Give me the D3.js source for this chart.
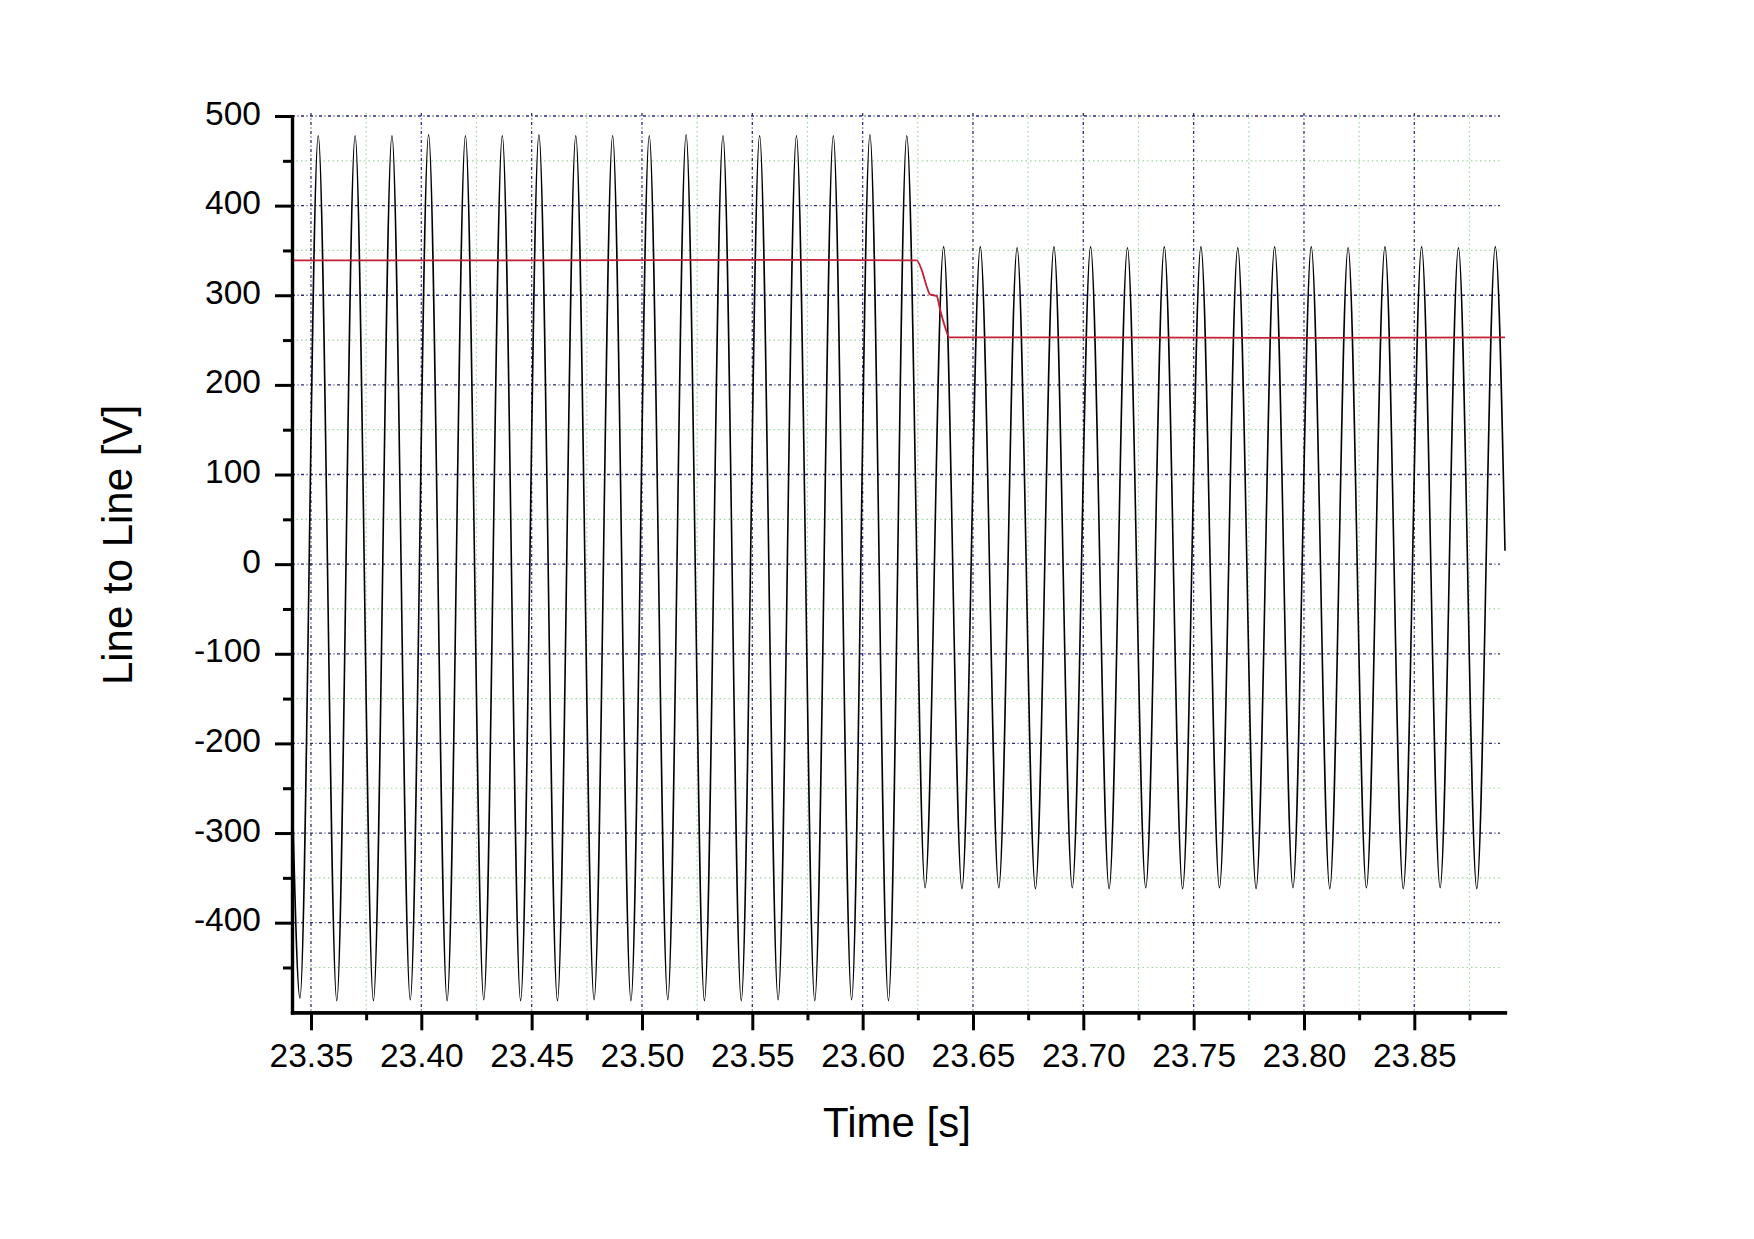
<!DOCTYPE html>
<html>
<head>
<meta charset="utf-8">
<script src="https://cdn.jsdelivr.net/npm/d3@7"></script>
<style>
  html, body { margin: 0; padding: 0; background: #ffffff; }
  svg { display: block; }
  text { font-family: "Liberation Sans", Arial, sans-serif; fill: #000; }
</style>
</head>
<body>
<svg id="chart" width="1754" height="1239"></svg>
<script>
// ---------------- data ----------------
const xDomain = [23.3414, 23.8911];
const yDomain = [-500, 500];

const xMajorTicks = [23.35, 23.40, 23.45, 23.50, 23.55, 23.60, 23.65, 23.70, 23.75, 23.80, 23.85];
const xTickLabels = ["23.35", "23.40", "23.45", "23.50", "23.55", "23.60", "23.65", "23.70", "23.75", "23.80", "23.85"];
const xMinorTicks = [23.375, 23.425, 23.475, 23.525, 23.575, 23.625, 23.675, 23.725, 23.775, 23.825, 23.875];
const yMajorTicks = [-400, -300, -200, -100, 0, 100, 200, 300, 400, 500];
const yTickLabels = ["-400", "-300", "-200", "-100", "0", "100", "200", "300", "400", "500"];
const yMinorTicks = [-450, -350, -250, -150, -50, 50, 150, 250, 350, 450];

// Voltage waveform: start / end samples and the extrema (peaks & troughs)
const waveStart = { t: 23.3414, v: -240 };
const waveEnd = { t: 23.8911, v: 15 };

const peakTimes = [
  23.3533, 23.3700, 23.3867, 23.4033, 23.4200, 23.4367, 23.4533, 23.4700, 23.4867,
  23.5033, 23.5200, 23.5367, 23.5533, 23.5700, 23.5867, 23.6033, 23.6200,
  23.6367, 23.6533, 23.6700, 23.6867, 23.7033, 23.7200, 23.7367, 23.7533,
  23.7700, 23.7867, 23.8033, 23.8200, 23.8367, 23.8533, 23.8700, 23.8867
];
const peakValues = [
  478, 478, 478, 479, 478, 478, 479, 478, 478,
  478, 479, 478, 478, 478, 478, 479, 478,
  354, 354, 353, 354, 354, 353, 354, 354,
  353, 354, 354, 353, 354, 354, 353, 354
];
const troughTimes = [
  23.3450, 23.3617, 23.3783, 23.3950, 23.4117, 23.4283, 23.4450, 23.4617, 23.4783,
  23.4950, 23.5117, 23.5283, 23.5450, 23.5617, 23.5783, 23.5950, 23.6117,
  23.6283, 23.6450, 23.6617, 23.6783, 23.6950, 23.7117, 23.7283, 23.7450,
  23.7617, 23.7783, 23.7950, 23.8117, 23.8283, 23.8450, 23.8617, 23.8783
];
const troughValues = [
  -484, -487, -487, -486, -487, -486, -487, -487, -486,
  -487, -486, -487, -487, -486, -487, -486, -487,
  -361, -362, -361, -362, -361, -362, -361, -362,
  -361, -362, -361, -362, -361, -362, -361, -362
];

// RMS (red) trace
const rmsTimes  = [23.3414, 23.4500, 23.5500, 23.6245, 23.6268, 23.6290, 23.6305, 23.6336, 23.6351, 23.6373, 23.6393, 23.7000, 23.8000, 23.8911];
const rmsValues = [339, 339, 339.5, 339, 328, 310, 301, 299, 284, 265, 253, 253, 252.5, 253];

// ---------------- layout ----------------
const svg = d3.select("#chart");
const plotLeft = 292, plotRight = 1505, plotTop = 116, plotBottom = 1012.3;

const x = d3.scaleLinear().domain(xDomain).range([plotLeft, plotRight]);
const y = d3.scaleLinear().domain(yDomain).range([plotBottom, plotTop]);

// ---------------- grid ----------------
const grid = svg.append("g");
// minor grid (light green dotted)
grid.selectAll(".vmin").data(xMinorTicks).enter().append("line")
  .attr("x1", d => x(d)).attr("x2", d => x(d))
  .attr("y1", plotTop - 3).attr("y2", plotBottom)
  .attr("stroke", "#9fd89f").attr("stroke-width", 1.2).attr("stroke-dasharray", "1.5,3");
grid.selectAll(".hmin").data(yMinorTicks).enter().append("line")
  .attr("x1", plotLeft).attr("x2", plotRight - 5)
  .attr("y1", d => y(d)).attr("y2", d => y(d))
  .attr("stroke", "#9fd89f").attr("stroke-width", 1.2).attr("stroke-dasharray", "1.5,3");
// major grid (navy dash-dot)
grid.selectAll(".vmaj").data(xMajorTicks).enter().append("line")
  .attr("x1", d => x(d)).attr("x2", d => x(d))
  .attr("y1", plotTop - 3).attr("y2", plotBottom)
  .attr("stroke", "#2b2b80").attr("stroke-width", 1.3).attr("stroke-dasharray", "3,2.5,1,2.5");
grid.selectAll(".hmaj").data(yMajorTicks).enter().append("line")
  .attr("x1", plotLeft).attr("x2", plotRight - 5)
  .attr("y1", d => y(d)).attr("y2", d => y(d))
  .attr("stroke", "#2b2b80").attr("stroke-width", 1.3).attr("stroke-dasharray", "3,2.5,1,2.5");

// ---------------- waveform ----------------
const wave = [waveStart]
  .concat(peakTimes.map((t, i) => ({ t: t, v: peakValues[i] })))
  .concat(troughTimes.map((t, i) => ({ t: t, v: troughValues[i] })))
  .concat([waveEnd])
  .sort((a, b) => a.t - b.t);

const line = d3.line().x(d => x(d.t)).y(d => y(d.v)).curve(d3.curveMonotoneX);

svg.append("path").datum(wave)
  .attr("d", line)
  .attr("fill", "none").attr("stroke", "#000").attr("stroke-width", 1.6)
  .attr("stroke-linejoin", "round");

const rms = rmsTimes.map((t, i) => ({ t: t, v: rmsValues[i] }));
svg.append("path").datum(rms)
  .attr("d", line)
  .attr("fill", "none").attr("stroke", "#c42035").attr("stroke-width", 1.8);

// ---------------- axes ----------------
const xAxisMinor = d3.axisBottom(x).tickValues(xMinorTicks).tickSize(8).tickSizeOuter(0).tickFormat("");
const xAxis = d3.axisBottom(x).tickValues(xMajorTicks).tickSize(18).tickSizeOuter(0)
  .tickFormat((d, i) => xTickLabels[i]);
const yAxisMinor = d3.axisLeft(y).tickValues(yMinorTicks).tickSize(9).tickSizeOuter(0).tickFormat("");
const yAxis = d3.axisLeft(y).tickValues(yMajorTicks).tickSize(17).tickSizeOuter(0)
  .tickFormat((d, i) => yTickLabels[i]);

function styleAxis(g) {
  g.select(".domain").attr("stroke", "#000").attr("stroke-width", 3.2).attr("stroke-linecap", "square");
  g.selectAll(".tick line").attr("stroke", "#000").attr("stroke-width", 3);
}

svg.append("g").attr("transform", `translate(0,${plotBottom})`).call(xAxisMinor).call(styleAxis);
const gx = svg.append("g").attr("transform", `translate(0,${plotBottom})`).call(xAxis).call(styleAxis);
gx.selectAll(".tick text")
  .attr("y", 55).attr("dy", null)
  .attr("font-size", 33.5).attr("font-family", "Liberation Sans, Arial, sans-serif")
  .attr("fill", "#000");

svg.append("g").attr("transform", `translate(${plotLeft},0)`).call(yAxisMinor).call(styleAxis);
const gy = svg.append("g").attr("transform", `translate(${plotLeft},0)`).call(yAxis).call(styleAxis);
gy.selectAll(".tick text")
  .attr("x", -31).attr("y", 8).attr("dy", null)
  .attr("font-size", 33.5).attr("font-family", "Liberation Sans, Arial, sans-serif")
  .attr("fill", "#000");

// ---------------- axis titles ----------------
svg.append("text")
  .attr("x", 897).attr("y", 1137)
  .attr("text-anchor", "middle")
  .attr("font-size", 42)
  .text("Time [s]");

svg.append("text")
  .attr("transform", "translate(132,545) rotate(-90)")
  .attr("text-anchor", "middle")
  .attr("font-size", 42)
  .text("Line to Line [V]");
</script>
</body>
</html>
